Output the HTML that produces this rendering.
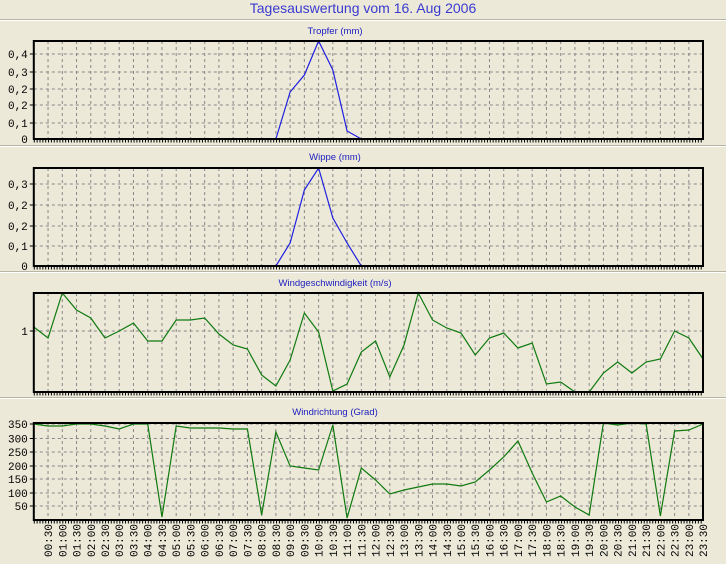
<!DOCTYPE html>
<html><head><meta charset="utf-8">
<style>
html,body{margin:0;padding:0;background:#ECE9D8;}
svg{display:block;}
text{font-family:"Liberation Sans",sans-serif;}
.m{font-family:"Liberation Mono",monospace;font-size:11px;fill:#000;}
</style></head>
<body>
<svg id="s" width="726" height="564" xmlns="http://www.w3.org/2000/svg">
<rect width="726" height="564" fill="#ECE9D8"/>
<text x="363" y="13" text-anchor="middle" font-size="14" fill="#3a3ad0">Tagesauswertung vom 16. Aug 2006</text>
</svg>
<script>
const s=document.getElementById('s');const NS='http://www.w3.org/2000/svg';
function el(t,a,txt){const e=document.createElementNS(NS,t);for(const k in a)e.setAttribute(k,a[k]);if(txt!=null)e.textContent=txt;s.appendChild(e);return e;}
const L=33.8,R=703,sp=14.24;const X=h=>L+sp*h;
// separators
[19,145,271,397].forEach(y=>{el('line',{x1:0,x2:726,y1:y+0.5,y2:y+0.5,stroke:'#b8b5a5'});el('line',{x1:0,x2:726,y1:y+1.5,y2:y+1.5,stroke:'#fff'});});
const panels=[
 {t:'Tropfer (mm)',ty:34,top:41,bot:139,gy:[54,72,89,105,123],lab:['0,4','0,3','0,2','0,2','0,1'],zero:true,col:'#2020e0',
  pts:[[17,139],[18,92],[19,75],[20,41],[21,70],[22,131],[23,139]]},
 {t:'Wippe (mm)',ty:160,top:168,bot:266,gy:[184,205,226,246],lab:['0,3','0,2','0,2','0,1'],zero:true,col:'#2020e0',
  pts:[[17,266],[18,243],[19,190],[20,168],[21,218],[22,243],[23,266]]},
 {t:'Windgeschwindigkeit (m/s)',ty:286,top:293,bot:392,gy:[331],lab:['1'],zero:false,col:'#107a10',
  pts:[327,338,293,310,318,338,331,323,341,341,320,320,318,334,345,349,375,386,360,313,332,391,384,352,341,377,345,293,320,328,333,355,338,333,348,343,384,382,392,392,373,362,373,362,359,331,338,359].map((y,i)=>[i,y])},
 {t:'Windrichtung (Grad)',ty:415,top:423,bot:520,gy:[424,438.5,452,466,479,493,506],lab:['350','300','250','200','150','100','50'],zero:false,col:'#107a10',
  pts:[424,426,426,424,424,426,429,424,424,517,426,428,428,428,429,429,515,432,466,468,470,425,518,468,480,494,490,487,484,484,486,482,470,457,441,473,502,496,507,515,423,425,423,424,516,431,430,424].map((y,i)=>[i,y])}
];
panels.forEach(p=>{
 el('text',{x:335,y:p.ty,'text-anchor':'middle','font-size':'9.5',fill:'#2020c0'},p.t);
 for(let h=1;h<=46;h++)el('line',{x1:X(h),x2:X(h),y1:p.top,y2:p.bot,stroke:'#888','stroke-dasharray':'3,3','stroke-width':1});
 p.gy.forEach((y,i)=>{el('line',{x1:L,x2:R,y1:y,y2:y,stroke:'#888','stroke-dasharray':'3,3'});
   el('line',{x1:L-4,x2:L,y1:y,y2:y,stroke:'#000'});
   el('text',{x:L-6,y:y+4,'text-anchor':'end',class:'m'},p.lab[i]);});
 if(p.zero)el('text',{x:L-6,y:p.bot+4,'text-anchor':'end',class:'m'},'0');
 // minor ticks along bottom
 el('line',{x1:L,x2:R,y1:p.bot+2,y2:p.bot+2,stroke:'#000','stroke-width':3,'stroke-dasharray':'1,1.85'});
 el('polyline',{points:p.pts.map(q=>X(q[0])+','+q[1]).join(' '),fill:'none',stroke:p.col,'stroke-width':1.2});
 el('rect',{x:L,y:p.top,width:R-L,height:p.bot-p.top,fill:'none',stroke:'#000','stroke-width':2});
});
for(let h=1;h<=47;h++){const hh=Math.floor(h/2),mm=h%2?'30':'00';
 const t=(hh<10?'0':'')+hh+':'+mm;
 el('text',{x:0,y:0,class:'m','text-anchor':'end',transform:`translate(${X(h)+4},${524}) rotate(-90)`},t);}
</script>
</body></html>
